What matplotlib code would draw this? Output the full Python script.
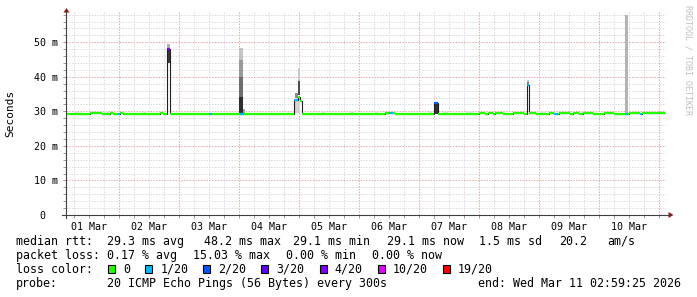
import matplotlib
matplotlib.use("Agg")
import matplotlib.pyplot as plt
from matplotlib.lines import Line2D
from matplotlib.patches import Rectangle, Polygon

W, H = 697, 297
MONO = "DejaVu Sans Mono"

# x in days since 01 Mar 00:00, y in ms
t_start, t_end = 0.1246, 10.1246
y_top = 58.77
day_labels = ["01 Mar", "02 Mar", "03 Mar", "04 Mar", "05 Mar",
              "06 Mar", "07 Mar", "08 Mar", "09 Mar", "10 Mar"]
y_ticks = [0, 10, 20, 30, 40, 50]
y_labels = ["0  ", "10 m", "20 m", "30 m", "40 m", "50 m"]

# median rtt as steps: breakpoints, value per step, loss class per step
med_t = [0.125, 0.517, 0.728, 0.855, 0.900, 0.988, 1.022, 1.067, 1.688, 1.733,
         1.800, 1.850, 2.505, 2.562, 3.017, 3.083, 3.922, 3.983, 4.025, 4.062,
         5.433, 5.500, 5.567, 5.600, 6.250, 6.317, 7.000, 7.100, 7.150, 7.233,
         7.267, 7.400, 7.567, 7.750, 7.800, 7.845, 7.950, 8.167, 8.262, 8.317,
         8.333, 8.517, 8.567, 8.667, 8.733, 8.900, 9.083, 9.250, 9.433, 9.483,
         9.500, 9.683, 9.728, 10.100]
med_v = [29.1, 29.4, 29.1, 29.4, 29.1, 29.1, 29.4, 29.1, 29.4, 29.1,
         48.2, 29.1, 29.1, 29.1, 29.1, 29.1, 33.3, 34.2, 33.0, 29.1,
         29.4, 29.4, 29.4, 29.1, 32.4, 29.1, 29.4, 29.1, 29.4, 29.1,
         29.4, 29.1, 29.4, 29.1, 37.5, 29.4, 29.1, 29.4, 29.1, 29.1,
         29.4, 29.1, 29.4, 29.1, 29.4, 29.1, 29.4, 29.1, 29.1, 29.1,
         29.4, 29.1, 29.4]
med_loss = [0, 0, 0, 0, 0, 1, 0, 0, 0, 0,
            4, 0, 1, 0, 1, 0, 1, 0, 0, 0,
            0, 1, 0, 0, 2, 0, 0, 0, 0, 0,
            0, 0, 0, 0, 1, 0, 0, 0, 1, 0,
            0, 0, 0, 0, 0, 0, 0, 0, 1, 0,
            0, 1, 0]

loss_labels = ["0", "1/20", "2/20", "3/20", "4/20", "10/20", "19/20"]
loss_colors = ["#26ff00", "#00b8ff", "#0059ff", "#5e00ff", "#7e00ff", "#dd00ff", "#ff0000"]

# smoke bands: start, end, low, high, shade
smoke_t0 = [1.800, 1.800, 3.012, 3.012, 3.012, 3.012, 3.067, 3.983, 3.983, 3.938, 3.938,
            6.250, 7.800, 7.800, 9.433]
smoke_t1 = [1.850, 1.850, 3.067, 3.067, 3.067, 3.067, 3.100, 4.025, 4.025, 3.983, 4.025,
            6.317, 7.845, 7.845, 9.483]
smoke_lo = [48.3, 44.0, 45.0, 40.0, 34.2, 29.4, 29.4, 38.8, 34.7, 33.9, 29.5,
            29.3, 38.5, 37.8, 29.5]
smoke_hi = [49.5, 48.3, 48.3, 45.0, 40.0, 34.2, 30.7, 42.5, 38.8, 35.3, 33.3,
            32.1, 39.1, 38.5, 58.0]
smoke_gray = ["#b0b0b0", "#3c3c3c", "#c4c4c4", "#9a9a9a", "#6e6e6e", "#2e2e2e", "#a0a0a0",
              "#c8c8c8", "#4a4a4a", "#8c8c8c", "#d4d4d4", "#333333", "#c0c0c0", "#7a7a7a",
              "#b4b4b4"]

# faint smoke just above the baseline
faint_t0 = [0.250, 0.517, 0.750, 1.400, 4.395, 4.850, 5.267, 6.167, 6.400, 6.783, 8.000, 8.700]
faint_t1 = [0.317, 0.583, 0.833, 1.450, 4.433, 4.917, 5.317, 6.233, 6.483, 6.900, 8.117, 8.750]

stats_rtt = [("median rtt:", 16), ("29.3 ms avg", 107), ("48.2 ms max", 204),
             ("29.1 ms min", 293), ("29.1 ms now", 387), ("1.5 ms sd", 479),
             ("20.2", 559), ("am/s", 607)]
stats_loss = [("packet loss:", 16), ("0.17 % avg", 107), ("15.03 % max", 193),
              ("0.00 % min", 286), ("0.00 % now", 372)]


def fx(x):
    return x / W


def fy(y):
    return 1 - y / H


fig = plt.figure(figsize=(W / 100, H / 100), dpi=100)
fig.patch.set_facecolor("white")

ax_l, ax_r, ax_t, ax_b = 66, 666, 12, 215
ax = fig.add_axes([fx(ax_l), fy(ax_b), (ax_r - ax_l) / W, (ax_b - ax_t) / H])
ax.set_xlim(t_start, t_end)
ax.set_ylim(0, y_top)
for s in ax.spines.values():
    s.set_visible(False)

# grid
d = 0.25
while d < t_end:
    if d > t_start:
        if abs(d - round(d)) < 1e-6:
            ax.axvline(d, color="#e6a8a8", lw=0.72, dashes=(1.4, 1.4), zorder=1)
        else:
            ax.axvline(d, color="#dadada", lw=0.72, dashes=(1.4, 1.4), zorder=0.5)
    d += 0.25
for v in range(2, 59, 2):
    if v % 10 == 0:
        ax.axhline(v, color="#e6a8a8", lw=0.72, dashes=(1.4, 1.4), zorder=1)
    else:
        ax.axhline(v, color="#dadada", lw=0.72, dashes=(1.4, 1.4), zorder=0.5)

# smoke
for a, b in zip(faint_t0, faint_t1):
    ax.bar(a, 0.6, bottom=29.4, width=b - a, align="edge", color="#e2e2e2", lw=0, zorder=2)
for a, b, lo, hi, c in zip(smoke_t0, smoke_t1, smoke_lo, smoke_hi, smoke_gray):
    ax.bar(a, hi - lo, bottom=lo, width=b - a, align="edge", color=c, lw=0, zorder=2)

# median line, dark base then loss colours on top
ax.stairs(med_v, med_t, baseline=None, color="#202020", lw=0.8, zorder=3)
ax.hlines(med_v, med_t[:-1], med_t[1:], colors=[loss_colors[k] for k in med_loss],
          lw=1.6, capstyle="butt", zorder=4)

# ticks and labels
ax.set_xticks([i + 0.5 for i in range(len(day_labels))])
ax.set_xticklabels(day_labels, fontfamily=MONO, fontsize=7.2)
ax.set_xticks([i * 0.25 for i in range(1, 41) if i * 0.25 > t_start], minor=True)
ax.xaxis.remove_overlapping_locs = False
ax.tick_params(axis="x", which="major", length=0, pad=5)
ax.tick_params(axis="x", which="minor", length=2, width=0.7, color="#999999", direction="out")
ax.set_yticks(y_ticks)
ax.set_yticklabels(y_labels, fontfamily=MONO, fontsize=7.2)
ax.set_yticks(range(2, 59, 2), minor=True)
ax.tick_params(axis="y", which="both", length=2, width=0.7, color="#999999", direction="out", pad=4)

# axes lines and arrows
fig.add_artist(Line2D([fx(62), fx(669)], [fy(ax_b), fy(ax_b)], color="#404040", lw=0.8))
fig.add_artist(Line2D([fx(ax_l), fx(ax_l)], [fy(218), fy(11)], color="#404040", lw=0.8))
fig.add_artist(Polygon([[fx(63.5), fy(12.5)], [fx(69.5), fy(12.5)], [fx(66.5), fy(8)]],
                       closed=True, color="#8b1a1a", lw=0))
fig.add_artist(Polygon([[fx(668.5), fy(212)], [fx(668.5), fy(218)], [fx(673.5), fy(215)]],
                       closed=True, color="#8b1a1a", lw=0))

fig.text(fx(10.5), fy(113), "Seconds", rotation=90, ha="center", va="center",
         fontfamily=MONO, fontsize=8)
fig.text(fx(688), fy(60), "RRDTOOL / TOBI OETIKER", rotation=-90, ha="center", va="center",
         fontfamily=MONO, fontsize=6, color="#c0c0c0")

# legend / stats
for s, x in stats_rtt:
    fig.text(fx(x), fy(241.3), s, ha="left", va="center", fontfamily=MONO, fontsize=8.4)
for s, x in stats_loss:
    fig.text(fx(x), fy(255.3), s, ha="left", va="center", fontfamily=MONO, fontsize=8.4)
fig.text(fx(16), fy(269.3), "loss color:", ha="left", va="center", fontfamily=MONO, fontsize=8.4)
x = 108.3
for lab, col in zip(loss_labels, loss_colors):
    fig.add_artist(Rectangle((fx(x), fy(273.3)), 7 / W, 8 / H, facecolor=col,
                             edgecolor="black", lw=0.8))
    fig.text(fx(x + 15), fy(269.3), lab, ha="left", va="center", fontfamily=MONO, fontsize=8.4)
    x = x + 15 + len(lab) * 7.02 + 15
fig.text(fx(16), fy(283.7), "probe:", ha="left", va="center", fontfamily=MONO, fontsize=8.4)
fig.text(fx(107), fy(283.7), "20 ICMP Echo Pings (56 Bytes) every 300s", ha="left",
         va="center", fontfamily=MONO, fontsize=8.4)
fig.text(fx(681), fy(283.7), "end: Wed Mar 11 02:59:25 2026", ha="right", va="center",
         fontfamily=MONO, fontsize=8.4)

fig.savefig("out.png", dpi=100)
